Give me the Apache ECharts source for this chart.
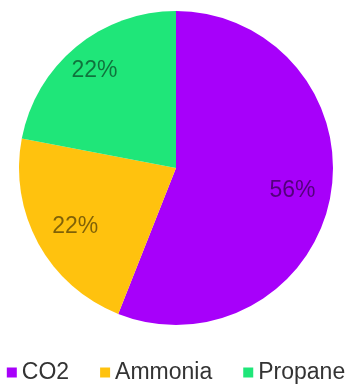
<!DOCTYPE html>
<html>
<head>
<meta charset="utf-8">
<script src="https://cdn.jsdelivr.net/npm/echarts@6/dist/echarts.min.js"></script>
<style>
  html, body { margin: 0; padding: 0; background: #ffffff; }
  #chart { width: 352px; height: 386px; }
</style>
</head>
<body>
<div id="chart"></div>
<script>
// Refrigerant share by type
const categories = ['CO2', 'Ammonia', 'Propane'];
const shares = [56, 22, 22];
const colors = ['#a700fa', '#ffc20e', '#1fe679'];

const chart = echarts.init(document.getElementById('chart'), null, { renderer: 'canvas' });

const pieData = categories.map((name, i) => ({
  name,
  value: shares[i],
  itemStyle: { color: colors[i] }
}));

chart.setOption({
  animation: false,
  backgroundColor: '#ffffff',
  legend: {
    data: categories,
    top: 361,
    left: 'center',
    padding: 0,
    icon: 'rect',
    itemWidth: 10,
    itemHeight: 10,
    itemGap: 31,
    textStyle: { fontFamily: 'Liberation Sans', fontSize: 23, color: '#333333' }
  },
  series: [
    {
      type: 'pie',
      center: [176, 168],
      radius: 157,
      startAngle: 90,
      clockwise: true,
      label: { show: false },
      labelLine: { show: false },
      emphasis: { disabled: true },
      data: pieData
    },
    {
      // transparent ring that carries the percentage labels further out
      type: 'pie',
      center: [176, 168],
      radius: [74, 157],
      startAngle: 90,
      clockwise: true,
      silent: true,
      legendHoverLink: false,
      itemStyle: { color: 'rgba(0,0,0,0)' },
      label: {
        show: true,
        position: 'inside',
        formatter: '{c}%',
        fontFamily: 'Liberation Sans',
        fontSize: 23,
        color: 'rgba(0,0,0,0.5)'
      },
      labelLine: { show: false },
      emphasis: { disabled: true },
      data: categories.map((name, i) => ({
        name: name + ' label',
        value: shares[i],
        label: i === 2 ? { offset: [-6, -6] } : (i === 1 ? { offset: [3, 2] } : undefined)
      }))
    }
  ]
});
</script>
</body>
</html>
